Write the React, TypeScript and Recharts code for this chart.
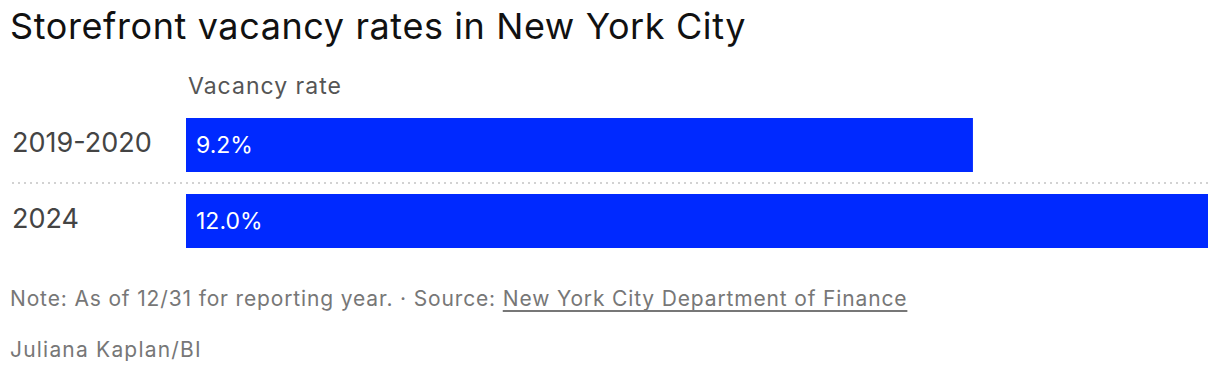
import React from 'react';
import { BarChart, Bar, XAxis, YAxis, LabelList } from 'recharts';

const categories = ['2019-2020', '2024'];
const vacancyRates = [9.24, 12.0];
const xDomainMax = 12;

const data = categories.map((period, i) => ({ period, rate: vacancyRates[i] }));

const FONT = 'Inter, "Noto Sans", sans-serif';
const BAR_COLOR = '#0029ff';

function CategoryTick(props: any) {
  const { y, payload, index } = props;
  const band = 76;
  return (
    <g>
      <text x={12} y={y} dy={7} textAnchor="start" fill="#444" fontSize={27} fontFamily={FONT}>
        {payload.value}
      </text>
      {index < categories.length - 1 && (
        <line
          x1={12}
          x2={1208}
          y1={y + band / 2}
          y2={y + band / 2}
          stroke="#d2d2d2"
          strokeWidth={2}
          strokeDasharray="2 4"
        />
      )}
    </g>
  );
}

export default function App() {
  return (
    <div
      style={{
        position: 'absolute',
        left: 0,
        top: 0,
        width: 1220,
        height: 374,
        background: '#fff',
        fontFamily: FONT,
        overflow: 'hidden',
      }}
    >
      <div style={{ position: 'absolute', left: 10, top: 4, fontSize: 36, color: '#111', letterSpacing: 0.6 }}>
        Storefront vacancy rates in New York City
      </div>
      <div style={{ position: 'absolute', left: 188, top: 72, fontSize: 23, color: '#555', letterSpacing: 1 }}>
        Vacancy rate
      </div>
      <div style={{ position: 'absolute', left: 0, top: 0 }}>
        <BarChart
          width={1220}
          height={270}
          data={data}
          layout="vertical"
          margin={{ top: 107, right: 12, bottom: 11, left: 0 }}
        >
          <XAxis type="number" hide domain={[0, xDomainMax]} />
          <YAxis
            type="category"
            dataKey="period"
            width={186}
            axisLine={false}
            tickLine={false}
            tick={<CategoryTick />}
          />
          <Bar dataKey="rate" fill={BAR_COLOR} barSize={54} isAnimationActive={false}>
            <LabelList
              dataKey="rate"
              position="insideLeft"
              offset={10}
              fill="#fff"
              fontSize={23}
              fontFamily={FONT}
              formatter={(v: any) => `${Number(v).toFixed(1)}%`}
            />
          </Bar>
        </BarChart>
      </div>
      <div style={{ position: 'absolute', left: 10, top: 286, fontSize: 21, color: '#777', letterSpacing: 0.85, whiteSpace: 'nowrap' }}>
        Note: As of 12/31 for reporting year. · Source:{' '}
        <span style={{ textDecoration: 'underline', textUnderlineOffset: 4 }}>New York City Department of Finance</span>
      </div>
      <div style={{ position: 'absolute', left: 10, top: 337, fontSize: 21, color: '#777', letterSpacing: 1.2 }}>
        Juliana Kaplan/BI
      </div>
    </div>
  );
}
